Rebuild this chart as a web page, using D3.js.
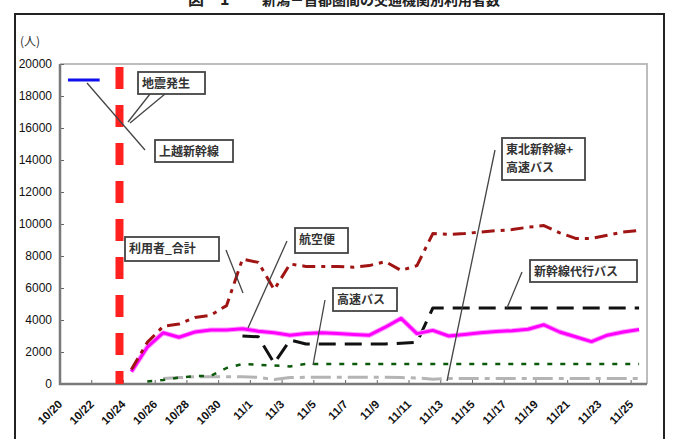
<!DOCTYPE html>
<html>
<head>
<meta charset="utf-8">
<script src="https://cdnjs.cloudflare.com/ajax/libs/d3/7.8.5/d3.min.js"></script>
<style>
  body { margin: 0; background: #fff; }
  svg { display: block; }
</style>
</head>
<body>
<div id="chart-area"></div>
<script>

/* Data */

const dates = ["10/20","10/21","10/22","10/23","10/24","10/25","10/26","10/27","10/28","10/29","10/30","10/31",
  "11/1","11/2","11/3","11/4","11/5","11/6","11/7","11/8","11/9","11/10","11/11","11/12","11/13",
  "11/14","11/15","11/16","11/17","11/18","11/19","11/20","11/21","11/22","11/23","11/24","11/25"]

const _ = null
// 上越新幹線 (before the quake)
const joetsu = [19000,19000,19000,_,_,_,_,_,_,_,_,_, _,_,_,_,_,_,_,_,_,_,_,_,_, _,_,_,_,_,_,_,_,_,_,_,_]
// 利用者_合計
const total = [_,_,_,_,900,2600,3600,3750,4150,4300,4900,7800,
  7600,5900,7500,7350,7350,7350,7300,7400,7650,7100,7400,9400,9350,
  9400,9500,9580,9650,9800,9900,9450,9100,9100,9300,9500,9600]
// 航空便
const air = [_,_,_,_,770,2300,3200,2920,3250,3370,3380,3450,
  3300,3200,3050,3150,3200,3150,3100,3050,3550,4100,3150,3350,3000,
  3100,3200,3280,3330,3420,3700,3250,2950,2650,3050,3250,3400]
// 新幹線代行バス
const subBus = [_,_,_,_,_,_,_,_,_,_,_,3000,
  2950,1300,2750,2500,2500,2500,2500,2500,2500,2550,2600,4750,4750,
  4750,4750,4750,4750,4750,4750,4750,4750,4750,4750,4750,4750]
// 高速バス
const hwBus = [_,_,_,_,_,150,250,400,500,500,1000,1250,
  1200,1150,1100,1250,1250,1250,1250,1250,1250,1250,1250,1250,1250,
  1250,1250,1250,1250,1250,1250,1250,1250,1250,1250,1250,1250]
// 東北新幹線+高速バス
const tohoku = [_,_,_,_,_,_,350,400,450,450,450,450,
  420,280,400,420,420,420,420,420,420,400,380,300,350,
  350,350,350,350,350,350,350,350,350,350,350,350]

const yTicks = [0,2000,4000,6000,8000,10000,12000,14000,16000,18000,20000]
const quakeDate = "10/23"

/* Chart area */

const W = 675, H = 439
const PLOT = { LEFT: 60, RIGHT: 647, TOP: 64, BOTTOM: 384 }

const svg = d3.select("#chart-area").append("svg")
    .attr("width", W)
    .attr("height", H)

// scales
const x = d3.scaleBand()
    .domain(dates)
    .range([PLOT.LEFT, PLOT.RIGHT])
const bw = x.bandwidth()
const cx = d => x(d) + bw / 2

const y = d3.scaleLinear()
    .domain([0, 20000])
    .range([PLOT.BOTTOM, PLOT.TOP])

// outer frame
svg.append("path")
    .attr("d", `M15,${H} V14 H664 V${H}`)
    .attr("fill", "none")
    .attr("stroke", "#222")
    .attr("stroke-width", 2)

// title (cut off at the top in the original)
svg.append("text")
    .attr("x", 188).attr("y", 5)
    .attr("font-family", "Noto Sans CJK JP").attr("font-size", 16).attr("font-weight", "bold")
    .attr("fill", "#222")
    .text("図－1")
svg.append("text")
    .attr("x", 262).attr("y", 5)
    .attr("font-family", "Noto Sans CJK JP").attr("font-size", 14).attr("font-weight", "bold")
    .attr("fill", "#222")
    .text("新潟－首都圏間の交通機関別利用者数")

// unit
svg.append("text")
    .attr("x", 20).attr("y", 46)
    .attr("font-family", "Noto Sans CJK JP").attr("font-size", 12)
    .attr("fill", "#333")
    .text("(人)")

// plot border (top / right light gray)
svg.append("path")
    .attr("d", `M${PLOT.LEFT},${PLOT.TOP} H${PLOT.RIGHT} V${PLOT.BOTTOM}`)
    .attr("fill", "none")
    .attr("stroke", "#bdbdbd")
    .attr("stroke-width", 2)

/* Axes */

const yAxis = svg.append("g")
    .attr("transform", `translate(${PLOT.LEFT},0)`)
    .call(d3.axisLeft(y).tickValues(yTicks).tickSize(-4).tickPadding(8).tickFormat(d3.format("d")))
yAxis.select(".domain").remove()
yAxis.selectAll("line").attr("stroke", "#666")
yAxis.selectAll("text")
    .attr("font-family", "Liberation Sans, Arial").attr("font-size", 12)
    .attr("fill", "#111")

// x ticks every 2 days, on the band edges
const labelDates = dates.filter((d, i) => i % 2 == 0)
svg.append("g").selectAll("line")
    .data(labelDates)
    .enter().append("line")
    .attr("x1", d => x(d)).attr("x2", d => x(d))
    .attr("y1", PLOT.BOTTOM).attr("y2", PLOT.BOTTOM - 4)
    .attr("stroke", "#666")

svg.append("g").selectAll("text")
    .data(labelDates)
    .enter().append("text")
    .attr("transform", d => `translate(${cx(d) - 5},405) rotate(-45)`)
    .attr("text-anchor", "end")
    .attr("font-family", "Liberation Sans, Arial").attr("font-size", 11.5).attr("font-weight", "bold")
    .attr("fill", "#111")
    .text(d => d)

// axis lines
svg.append("path")
    .attr("d", `M${PLOT.LEFT},${PLOT.TOP} V${PLOT.BOTTOM} H${PLOT.RIGHT}`)
    .attr("fill", "none")
    .attr("stroke", "#7a7a7a")
    .attr("stroke-width", 2.5)

/* Series */

const line = d3.line()
    .defined(d => d.v != null)
    .x(d => cx(d.date))
    .y(d => y(d.v))

function drawSeries(values, color, width, dash) {
    const pts = values.map((v, i) => ({ date: dates[i], v: v }))
    svg.append("path")
        .datum(pts)
        .attr("d", line)
        .attr("fill", "none")
        .attr("stroke", color)
        .attr("stroke-width", width)
        .attr("stroke-dasharray", dash)
        .attr("stroke-linejoin", "round")
}

drawSeries(tohoku, "#b4b4b4", 3, "20,6,5,6")
drawSeries(hwBus, "#0b5a0b", 2.5, "5,8")
drawSeries(subBus, "#111", 3, "17,9")
drawSeries(air, "#ff99ff", 5, null)
drawSeries(air, "#ff00ff", 3, null)
drawSeries(total, "#a01414", 3, "13,6,4,6")
drawSeries(joetsu, "#1010ee", 3, null)

// earthquake line
const qx = x(quakeDate) + bw * 0.75
svg.append("line")
    .attr("x1", qx).attr("x2", qx)
    .attr("y1", PLOT.TOP + 3).attr("y2", PLOT.BOTTOM)
    .attr("stroke", "#ff2020")
    .attr("stroke-width", 8)
    .attr("stroke-dasharray", "22,16")

/* Callouts: box [x, y, w, h], leader lines */

const callouts = [
    { text: ["地震発生"], box: [138, 72, 67, 22], leaders: [[150, 94, 128, 122], [165, 94, 130, 123]] },
    { text: ["上越新幹線"], box: [155, 140, 78, 22], leaders: [[87, 83, 145, 150]] },
    { text: ["利用者_合計"], box: [125, 237, 94, 24], leaders: [[226, 250, 243, 293]] },
    { text: ["航空便"], box: [295, 228, 53, 25], leaders: [[287, 241, 248, 328]] },
    { text: ["高速バス"], box: [333, 288, 64, 23], leaders: [[325, 300, 313, 365]] },
    { text: ["東北新幹線+", "高速バス"], box: [502, 138, 83, 42], leaders: [[495, 150, 447, 381]] },
    { text: ["新幹線代行バス"], box: [530, 260, 107, 22], leaders: [[522, 272, 507, 308]] }
]

callouts.forEach(c => {
    c.leaders.forEach(l => {
        svg.append("line")
            .attr("x1", l[0]).attr("y1", l[1]).attr("x2", l[2]).attr("y2", l[3])
            .attr("stroke", "#444").attr("stroke-width", 1.3)
    })
    svg.append("rect")
        .attr("x", c.box[0]).attr("y", c.box[1])
        .attr("width", c.box[2]).attr("height", c.box[3])
        .attr("fill", "#fff")
        .attr("stroke", "#444").attr("stroke-width", 1.8)
    c.text.forEach((t, i) => {
        svg.append("text")
            .attr("x", c.box[0] + 4)
            .attr("y", c.box[1] + 16 + i * 18)
            .attr("font-family", "Noto Sans CJK JP").attr("font-size", 12).attr("font-weight", "bold")
            .attr("fill", "#333")
            .text(t)
    })
})

</script>
</body>
</html>
